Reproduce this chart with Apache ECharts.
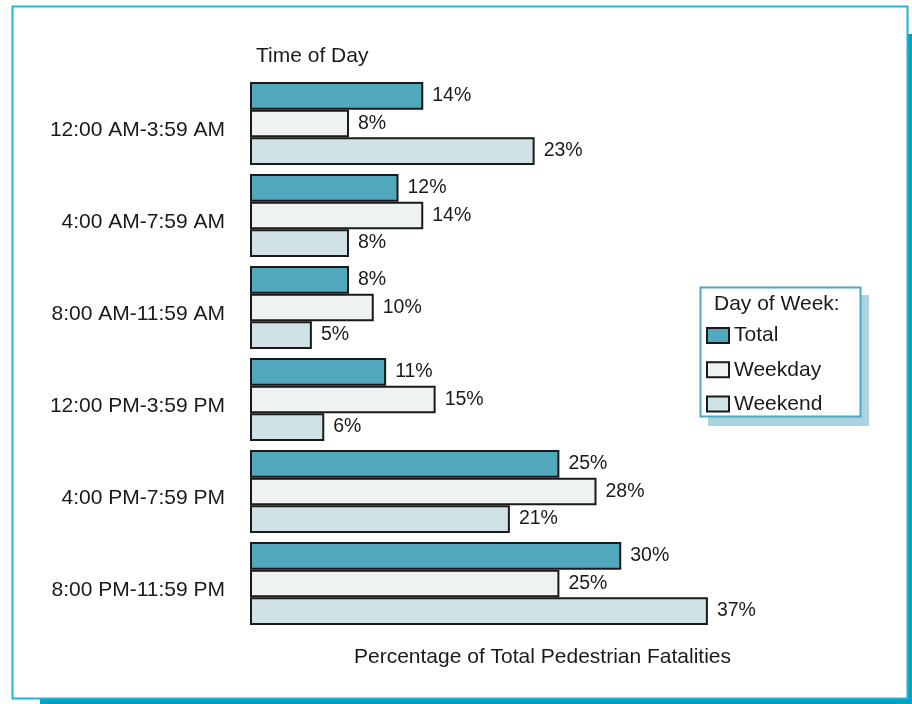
<!DOCTYPE html>
<html>
<head>
<meta charset="utf-8">
<script src="https://cdn.jsdelivr.net/npm/echarts@6/dist/echarts.min.js"></script>
<style>
html,body{margin:0;padding:0;background:#fff;}
#chart{width:912px;height:704px;}
</style>
</head>
<body>
<div id="chart"></div>
<script>
const categories = ['12:00 AM-3:59 AM','4:00 AM-7:59 AM','8:00 AM-11:59 AM','12:00 PM-3:59 PM','4:00 PM-7:59 PM','8:00 PM-11:59 PM'];
const totalValues = [14, 12, 8, 11, 25, 30];
const weekdayValues = [8, 14, 10, 15, 28, 25];
const weekendValues = [23, 8, 5, 6, 21, 37];
const seriesNames = ['Total', 'Weekday', 'Weekend'];
const yTitle = 'Time of Day';
const xTitle = 'Percentage of Total Pedestrian Fatalities';
const legendTitle = 'Day of Week:';

const FONT = '"Liberation Sans", Arial, sans-serif';
const colors = ['#52a9bd', '#eef2f3', '#d0e2e6'];

function mkSeries(name, data, color) {
  return {
    name: name, type: 'bar', data: data,
    barWidth: 27.6, barGap: '0%',
    itemStyle: { color: color, borderColor: '#1a1a1a', borderWidth: 2 },
    label: { show: true, position: 'right', distance: 9, formatter: '{c}%', color: '#1a1a1a', fontSize: 19.5, fontFamily: FONT },
    emphasis: { disabled: true }, animation: false
  };
}

const chart = echarts.init(document.getElementById('chart'));
chart.setOption({
  animation: false,
  backgroundColor: '#ffffff',
  textStyle: { fontFamily: FONT },
  grid: { left: 250, top: 77.5, height: 552, width: 495, containLabel: false },
  xAxis: { type: 'value', min: 0, max: 40, show: false },
  yAxis: {
    type: 'category', data: categories, inverse: true,
    axisLine: { show: false }, axisTick: { show: false }, splitLine: { show: false },
    axisLabel: {
      margin: 25,
      formatter: function (v) { return '{c|' + v + '}'; },
      rich: { c: { color: '#1a1a1a', fontSize: 21, fontFamily: FONT, padding: [14, 0, 0, 0] } }
    }
  },
  title: [
    { text: yTitle, left: 256, top: 46, padding: 0, textStyle: { color: '#1a1a1a', fontSize: 21, fontWeight: 'normal', fontFamily: FONT } },
    { text: xTitle, left: 354, top: 647, padding: 0, textStyle: { color: '#1a1a1a', fontSize: 21, fontWeight: 'normal', fontFamily: FONT } }
  ],
  legend: {
    data: seriesNames, orient: 'vertical', left: 706, top: 325, padding: 0,
    icon: 'rect', itemWidth: 22, itemHeight: 15, itemGap: 13.3,
    textStyle: { color: '#1a1a1a', fontSize: 21, fontFamily: FONT, padding: [0, 0, 0, 0] },
    selectedMode: false
  },
  graphic: [
    { type: 'rect', z: 0, silent: true, shape: { x: 908, y: 34, width: 4, height: 670 }, style: { fill: '#00a2c2' } },
    { type: 'rect', z: 0, silent: true, shape: { x: 40, y: 699, width: 872, height: 5 }, style: { fill: '#00a2c2' } },
    { type: 'rect', z: 0, silent: true, shape: { x: 12.5, y: 6.5, width: 895, height: 692 }, style: { fill: 'none', stroke: '#22b2d3', lineWidth: 2 } },
    { type: 'rect', z: 0, silent: true, shape: { x: 708, y: 295, width: 161, height: 131 }, style: { fill: '#a9d4df' } },
    { type: 'rect', z: 0, silent: true, shape: { x: 700.5, y: 287.5, width: 160, height: 129 }, style: { fill: '#ffffff', stroke: '#4fa8c0', lineWidth: 2 } },
    { type: 'text', z: 1, silent: true, x: 714, y: 304, style: { text: legendTitle, fill: '#1a1a1a', fontSize: 21, fontFamily: FONT, verticalAlign: 'middle' } }
  ],
  series: [
    mkSeries(seriesNames[0], totalValues, colors[0]),
    mkSeries(seriesNames[1], weekdayValues, colors[1]),
    mkSeries(seriesNames[2], weekendValues, colors[2])
  ]
});
</script>
</body>
</html>
